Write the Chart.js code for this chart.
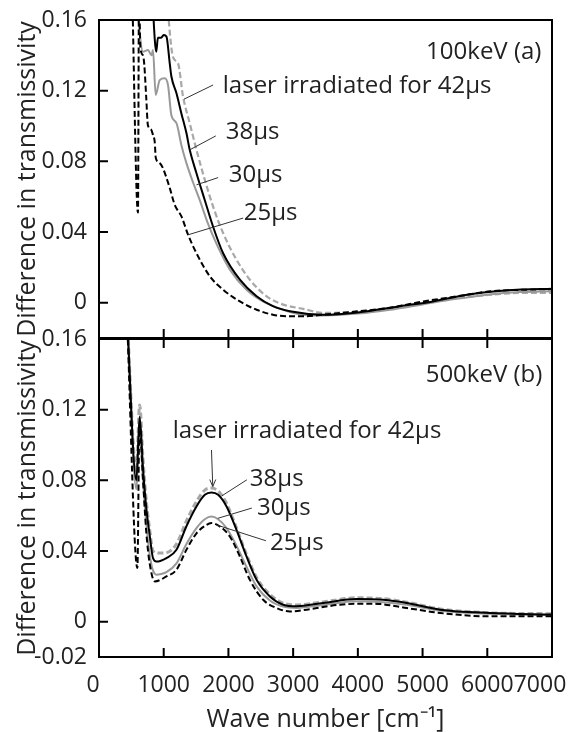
<!DOCTYPE html>
<html>
<head>
<meta charset="utf-8">
<script src="https://cdn.jsdelivr.net/npm/chart.js@4.4.0/dist/chart.umd.min.js"></script>
<style>
  html, body { margin: 0; padding: 0; background: #fff; }
  body { width: 573px; height: 732px; position: relative; overflow: hidden; }
  canvas { position: absolute; left: 0; }
  #topChart { top: 0; }
  #botChart { top: 320px; }
</style>
</head>
<body>
<canvas id="topChart" width="573" height="345"></canvas>
<canvas id="botChart" width="573" height="412"></canvas>
<script>
// === Axis ticks ===
const xTicks = [0, 1000, 2000, 3000, 4000, 5000, 6000, 7000];
const yTicksTop = [0, 0.04, 0.08, 0.12, 0.16];
const yTicksBot = [-0.02, 0, 0.04, 0.08, 0.12, 0.16];

// === 100 keV (a) ===
const top42X = [1030, 1144, 1221, 1299, 1402, 1506, 1635, 1763, 1918, 2125, 2331, 2590, 2847, 3156, 3461, 3990, 4500, 5010, 5540, 6050, 6560, 7000];
const top42Y = [0.180, 0.139, 0.1355, 0.1166, 0.1016, 0.0865, 0.0695, 0.0544, 0.0394, 0.0243, 0.013, 0.0036, -0.0011, -0.0035, -0.0058, -0.0052, -0.003, 0.0, 0.0026, 0.0045, 0.0055, 0.0055];

const top38X = [820, 885, 910, 960, 1000, 1042, 1093, 1119, 1197, 1274, 1351, 1402, 1506, 1635, 1763, 1918, 2177, 2435, 2687, 2950, 3460, 4000, 4650, 5160, 5690, 5940, 6460, 7000];
const top38Y = [0.175, 0.142, 0.150, 0.150, 0.1515, 0.1506, 0.1355, 0.128, 0.1185, 0.107, 0.096, 0.0865, 0.0733, 0.058, 0.043, 0.028, 0.013, 0.0036, -0.002, -0.0049, -0.0068, -0.0055, -0.002, 0.0007, 0.0045, 0.0058, 0.0073, 0.0079];

const top30X = [570, 680, 757, 810, 834, 876, 938, 1016, 1067, 1119, 1197, 1274, 1351, 1454, 1557, 1681, 1836, 2022, 2280, 2533, 2842, 3152, 3460, 4000, 4500, 5000, 5500, 6000, 6500, 7000];
const top30Y = [0.175, 0.142, 0.143, 0.140, 0.143, 0.1176, 0.126, 0.127, 0.123, 0.106, 0.1016, 0.089, 0.079, 0.068, 0.058, 0.045, 0.0317, 0.0187, 0.0073, 0.0007, -0.004, -0.0068, -0.0073, -0.0062, -0.004, -0.001, 0.002, 0.0045, 0.006, 0.0065];

const top25X = [510, 602, 618, 640, 680, 700, 730, 755, 808, 833, 861, 877, 938, 990, 1042, 1093, 1170, 1274, 1377, 1506, 1713, 1918, 2177, 2435, 2687, 2950, 3200, 3460, 3990, 4500, 5010, 5535, 6046, 6557, 7000];
const top25Y = [0.180, 0.051, 0.175, 0.144, 0.140, 0.1346, 0.116, 0.1006, 0.0978, 0.095, 0.091, 0.082, 0.079, 0.076, 0.0707, 0.065, 0.0554, 0.0488, 0.0384, 0.028, 0.0149, 0.0073, 0.0007, -0.004, -0.0068, -0.0077, -0.0077, -0.0068, -0.0049, -0.0029, 0.0007, 0.0036, 0.0064, 0.0073, 0.0077];

// === 500 keV (b) ===
const bot42X = [430, 577, 628, 680, 732, 783, 834, 938, 1042, 1197, 1351, 1506, 1635, 1738, 1841, 1971, 2125, 2280, 2435, 2641, 2847, 3054, 3466, 3983, 4395, 4757, 5272, 6046, 7000];
const bot42Y = [0.175, 0.085, 0.1227, 0.092, 0.068, 0.052, 0.040, 0.0388, 0.039, 0.044, 0.057, 0.068, 0.0745, 0.0756, 0.074, 0.067, 0.053, 0.038, 0.025, 0.0155, 0.0105, 0.0095, 0.0112, 0.0135, 0.013, 0.011, 0.0072, 0.005, 0.0045];

const bot38X = [430, 577, 628, 680, 732, 783, 834, 887, 1042, 1197, 1351, 1506, 1635, 1738, 1841, 1971, 2125, 2280, 2435, 2641, 2847, 3054, 3466, 3983, 4395, 4757, 5272, 6046, 7000];
const bot38Y = [0.175, 0.080, 0.116, 0.087, 0.064, 0.049, 0.036, 0.034, 0.036, 0.0407, 0.054, 0.0652, 0.0718, 0.0731, 0.0718, 0.0652, 0.052, 0.0369, 0.0237, 0.0143, 0.0096, 0.0087, 0.0106, 0.0128, 0.0124, 0.0106, 0.0068, 0.0049, 0.004];

const bot30X = [430, 577, 628, 680, 732, 783, 834, 887, 960, 1042, 1197, 1351, 1506, 1635, 1738, 1841, 1971, 2125, 2280, 2435, 2641, 2847, 3054, 3466, 3983, 4395, 4757, 5272, 6046, 7000];
const bot30Y = [0.175, 0.075, 0.108, 0.080, 0.055, 0.038, 0.029, 0.0266, 0.027, 0.028, 0.033, 0.044, 0.053, 0.058, 0.0595, 0.058, 0.053, 0.043, 0.031, 0.020, 0.012, 0.0085, 0.0078, 0.0095, 0.0115, 0.011, 0.0095, 0.0062, 0.0045, 0.0038];

const bot25X = [430, 593, 625, 680, 732, 783, 861, 1042, 1197, 1351, 1506, 1661, 1738, 1867, 2022, 2177, 2331, 2537, 2745, 2950, 3209, 3726, 4240, 4757, 5272, 6046, 7000];
const bot25Y = [0.175, 0.0304, 0.112, 0.080, 0.050, 0.033, 0.0228, 0.0256, 0.0294, 0.0407, 0.050, 0.0548, 0.0558, 0.0539, 0.0482, 0.0369, 0.0237, 0.0124, 0.0077, 0.0058, 0.0068, 0.0096, 0.0102, 0.0077, 0.0049, 0.003, 0.003];

const FONT = '"Open Sans", sans-serif';
const INK = '#222';
const TICK = 9;

function series(label, xs, ys, color, dash, width) {
  return {
    label: label,
    data: xs.map((x, i) => ({ x: x, y: ys[i] })),
    borderColor: color,
    borderWidth: width,
    borderDash: dash,
    pointRadius: 0,
    fill: false,
    cubicInterpolationMode: "monotone"
  };
}

// frame, inward ticks, text notes and leader lines
const panelDeco = {
  id: "panelDeco",
  beforeDraw(chart, args, o) {
    // nudge the end labels of the x axis like the original ("60007000")
    if (!o.labelShift) return;
    try {
      chart.scales.x.getLabelItems().forEach(it => {
        const d = o.labelShift[it.label];
        if (d) it.options.translation[0] += d;
      });
    } catch (e) { /* keep default placement */ }
  },
  afterDatasetsDraw(chart, args, o) {
    const { ctx, chartArea: a, scales: { x, y } } = chart;
    ctx.save();
    ctx.strokeStyle = "#000";
    ctx.lineWidth = 2;
    ctx.strokeRect(a.left, a.top, a.right - a.left, a.bottom - a.top);
    ctx.beginPath();
    xTicks.forEach(v => {
      const px = x.getPixelForValue(v);
      ctx.moveTo(px, a.bottom);
      ctx.lineTo(px, a.bottom - TICK);
      if (o.topTicks) {
        ctx.moveTo(px, a.top);
        ctx.lineTo(px, a.top + TICK);
      }
    });
    o.yTicks.forEach(v => {
      const py = y.getPixelForValue(v);
      ctx.moveTo(a.left, py);
      ctx.lineTo(a.left + TICK, py);
    });
    ctx.stroke();

    ctx.lineWidth = 1;
    ctx.strokeStyle = "#333";
    o.leaders.forEach(l => {
      const x1 = x.getPixelForValue(l[0]), y1 = y.getPixelForValue(l[1]);
      const x2 = x.getPixelForValue(l[2]), y2 = y.getPixelForValue(l[3]);
      ctx.beginPath();
      ctx.moveTo(x1, y1);
      ctx.lineTo(x2, y2);
      if (l[4]) { // arrow head
        ctx.moveTo(x2 - 3, y2 - 7);
        ctx.lineTo(x2, y2);
        ctx.lineTo(x2 + 3, y2 - 7);
      }
      ctx.stroke();
    });

    ctx.fillStyle = INK;
    ctx.font = "24px " + FONT;
    ctx.textBaseline = "alphabetic";
    o.notes.forEach(n => {
      ctx.textAlign = n.align || "left";
      ctx.fillText(n.text, x.getPixelForValue(n.x), y.getPixelForValue(n.y));
    });
    ctx.restore();
  }
};

function makePanel(id, datasets, cfg) {
  return new Chart(document.getElementById(id), {
    type: "line",
    data: { datasets: datasets },
    plugins: [panelDeco],
    options: {
      animation: false,
      responsive: false,
      devicePixelRatio: 1,
      layout: {
        autoPadding: false,
        padding: { left: 0, right: 21, top: cfg.padTop, bottom: cfg.padBottom }
      },
      plugins: {
        legend: { display: false },
        tooltip: { enabled: false },
        panelDeco: {
          topTicks: cfg.topTicks, yTicks: cfg.yTicks, notes: cfg.notes,
          leaders: cfg.leaders, labelShift: cfg.labelShift
        }
      },
      scales: {
        x: {
          type: "linear",
          display: cfg.showX,
          min: 0,
          max: 7000,
          grid: { display: false },
          border: { display: false },
          afterBuildTicks: s => { s.ticks = xTicks.map(v => ({ value: v })); },
          afterFit: s => {
            s.height = cfg.xHeight;
            s.paddingLeft = 0;
            s.paddingRight = 0;
          },
          ticks: {
            padding: 7,
            autoSkip: false,
            maxRotation: 0,
            color: INK,
            font: { family: FONT, size: 23 },
            callback: v => String(v)
          },
          title: {
            display: true,
            text: "Wave number [cm⁻¹]",
            color: INK,
            font: { family: FONT, size: 25, lineHeight: 1 },
            padding: { top: 0, bottom: 0 }
          }
        },
        y: {
          min: -0.02,
          max: 0.16,
          grid: { display: false },
          border: { display: false },
          afterBuildTicks: s => { s.ticks = cfg.yTicks.map(v => ({ value: v })); },
          afterFit: s => {
            s.width = 99;
            s.paddingTop = 0;
            s.paddingBottom = 0;
          },
          ticks: {
            padding: 4,
            color: INK,
            font: { family: FONT, size: 23 },
            callback: v => (v === 0 ? "0" : v.toFixed(2))
          },
          title: {
            display: true,
            text: "Difference in transmissivity",
            color: INK,
            font: { family: FONT, size: 25, lineHeight: 1 },
            padding: { top: 15, bottom: 0 }
          }
        }
      }
    }
  });
}

makePanel("topChart", [
  series("38μs", top38X, top38Y, "#000", [], 2),
  series("25μs", top25X, top25Y, "#000", [6, 3], 2),
  series("30μs", top30X, top30Y, "#999", [], 2),
  series("42μs", top42X, top42Y, "#a8a8a8", [6, 3], 2.2)
], {
  padTop: 20, padBottom: 7, xHeight: 0, showX: false, topTicks: false, yTicks: yTicksTop,
  notes: [
    { text: "100keV (a)", x: 6836, y: 0.1378, align: "right" },
    { text: "laser irradiated for 42μs", x: 1913, y: 0.1187 },
    { text: "38μs", x: 1960, y: 0.0927 },
    { text: "30μs", x: 2006, y: 0.0684 },
    { text: "25μs", x: 2238, y: 0.0469 }
  ],
  leaders: [
    [1763, 0.1232, 1314, 0.1152],
    [1805, 0.0944, 1402, 0.0865],
    [1841, 0.0708, 1506, 0.0667],
    [2228, 0.0479, 1376, 0.0384]
  ]
});

makePanel("botChart", [
  series("38μs", bot38X, bot38Y, "#000", [], 2),
  series("25μs", bot25X, bot25Y, "#000", [6, 3], 2),
  series("30μs", bot30X, bot30Y, "#999", [], 2),
  series("42μs", bot42X, bot42Y, "#a8a8a8", [6, 3], 3)
], {
  padTop: 19, padBottom: 0, xHeight: 75, showX: true, topTicks: true, yTicks: yTicksBot,
  labelShift: { "0": -6, "7000": -12 },
  notes: [
    { text: "500keV (b)", x: 6850, y: 0.1358, align: "right" },
    { text: "laser irradiated for 42μs", x: 1139, y: 0.104 },
    { text: "38μs", x: 2331, y: 0.0769 },
    { text: "30μs", x: 2440, y: 0.0605 },
    { text: "25μs", x: 2641, y: 0.0407 }
  ],
  leaders: [
    [1738, 0.0972, 1758, 0.0765, true],
    [2285, 0.0803, 1898, 0.0712],
    [2362, 0.0643, 1836, 0.0585],
    [2579, 0.0458, 1813, 0.0548]
  ]
});
</script>
</body>
</html>
